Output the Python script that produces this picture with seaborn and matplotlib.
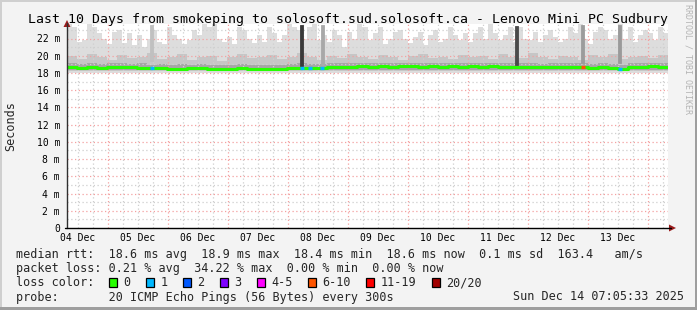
import numpy as np
import matplotlib
matplotlib.use("Agg")
import matplotlib.pyplot as plt
import seaborn as sns
from matplotlib.patches import Rectangle, Polygon

# ---------------- data ----------------
title = "Last 10 Days from smokeping to solosoft.sud.solosoft.ca - Lenovo Mini PC Sudbury"
day_labels = ["04 Dec", "05 Dec", "06 Dec", "07 Dec", "08 Dec",
              "09 Dec", "10 Dec", "11 Dec", "12 Dec", "13 Dec"]
day_label_pos = [0.5, 1.5, 2.5, 3.5, 4.5, 5.5, 6.5, 7.5, 8.5, 9.5]   # days after 04 Dec 00:00
y_ticks = [0, 2, 4, 6, 8, 10, 12, 14, 16, 18, 20, 22]
y_tick_labels = ["0", "2 m", "4 m", "6 m", "8 m", "10 m", "12 m", "14 m",
                 "16 m", "18 m", "20 m", "22 m"]

t_start = 0.317     # 03 Dec 07:36
t_end = 10.333      # 14 Dec 08:00

# outer smoke (upper edge, ms) every ~2 h
smoke_hi = [23.7, 23.3, 21.6, 21.8, 23.7, 23.3, 22.6, 22.0, 21.4, 22.8,
            23.0, 21.5, 22.6, 21.2, 22.4, 21.0, 22.0, 23.0, 21.6, 21.4,
            23.3, 22.4, 22.0, 21.4, 21.8, 23.0, 22.4, 23.7, 23.3, 23.7,
            22.0, 21.6, 22.2, 21.4, 23.3, 23.0, 22.0, 21.5, 22.4, 21.6,
            23.3, 22.6, 21.6, 22.4, 23.7, 23.3, 23.0, 22.0, 23.3, 23.7,
            21.8, 22.4, 21.6, 23.0, 22.4, 21.0, 22.8, 22.0, 23.7, 23.3,
            21.8, 22.6, 23.3, 21.4, 22.0, 22.8, 23.0, 22.0, 21.5, 22.2,
            22.8, 21.2, 22.4, 23.0, 21.6, 22.0, 23.3, 22.4, 21.8, 22.6,
            21.6, 22.6, 23.3, 22.0, 23.7, 22.6, 21.8, 22.4, 23.3, 21.6,
            23.3, 22.0, 21.8, 22.8, 21.6, 22.4, 23.0, 22.2, 21.6, 22.0,
            23.3, 22.6, 23.7, 22.0, 21.4, 22.8, 23.3, 23.0, 22.0, 22.4,
            23.7, 22.0, 23.3, 21.6, 22.4, 23.0, 22.6, 21.8, 23.3, 22.6]
smoke_hi_lo = 18.05

# middle smoke (upper edge, ms) every ~4 h
smoke_mid = [20.0, 19.6, 20.2, 19.8, 19.5, 20.1, 19.7, 19.9, 20.3, 19.6,
             19.8, 20.2, 19.5, 19.9, 20.0, 19.4, 19.8, 20.2, 19.7, 19.9,
             20.1, 19.6, 19.9, 20.3, 19.8, 19.5, 20.0, 19.7, 20.2, 19.9,
             19.6, 20.1, 19.8, 19.5, 20.0, 20.2, 19.7, 19.9, 19.6, 20.1,
             19.8, 20.0, 19.6, 20.2, 19.9, 19.7, 20.3, 19.8, 19.6, 20.0,
             19.9, 19.5, 20.1, 19.8, 20.2, 19.6, 19.9, 20.0, 19.7, 20.1]
smoke_mid_lo = 18.2

# inner smoke (upper edge, ms) every ~4 h
smoke_in = [19.1, 19.0, 19.2, 19.0, 19.1, 19.2, 19.0, 19.1, 18.9, 19.0,
            18.9, 19.0, 18.9, 19.0, 18.9, 18.9, 18.9, 19.0, 18.9, 18.9,
            18.9, 18.9, 19.0, 19.1, 19.0, 19.0, 19.1, 19.1, 19.1, 19.2,
            19.1, 19.2, 19.1, 19.2, 19.2, 19.1, 19.2, 19.1, 19.2, 19.1,
            19.2, 19.1, 19.2, 19.1, 19.1, 19.1, 19.1, 19.0, 19.1, 19.1,
            19.1, 19.1, 19.0, 19.1, 19.0, 18.9, 19.1, 19.1, 19.2, 19.1]
smoke_in_lo = 18.35

# median rtt (ms) every ~4 h
median_rtt = [18.65, 18.60, 18.70, 18.60, 18.65, 18.70, 18.65, 18.60, 18.55, 18.55,
              18.50, 18.50, 18.55, 18.60, 18.50, 18.45, 18.50, 18.55, 18.45, 18.45,
              18.45, 18.50, 18.55, 18.60, 18.55, 18.60, 18.70, 18.65, 18.70, 18.75,
              18.70, 18.75, 18.70, 18.75, 18.80, 18.70, 18.75, 18.70, 18.75, 18.70,
              18.75, 18.70, 18.75, 18.70, 18.70, 18.65, 18.70, 18.65, 18.70, 18.65,
              18.70, 18.65, 18.60, 18.70, 18.55, 18.50, 18.65, 18.70, 18.75, 18.70]

# packets lost (of 20) at particular times
loss_t = [1.73, 4.23, 4.37, 4.57, 8.92, 9.53]
loss_n = [1, 1, 1, 1, 7, 1]

# tall columns of widely spread pings
spike_t = [1.733, 4.233, 4.567, 7.80, 8.90, 9.517]
spike_top = [23.6, 23.6, 23.6, 23.4, 23.6, 23.6]
spike_bot = [19.4, 18.8, 19.0, 18.9, 19.2, 19.2]
spike_shade = ['#c0c0c0', '#3a3a3a', '#a8a8a8', '#4a4a4a', '#9c9c9c', '#9a9a9a']

loss_labels = ["0", "1", "2", "3", "4-5", "6-10", "11-19", "20/20"]
loss_upper = [0, 1, 2, 3, 5, 10, 19, 20]
loss_colors = ['#26ff00', '#00b8ff', '#0059ff', '#7e00ff',
               '#ff00ff', '#ff5500', '#ff0000', '#a10000']

legend_l1 = "median rtt:  18.6 ms avg  18.9 ms max  18.4 ms min  18.6 ms now  0.1 ms sd  163.4   am/s"
legend_l2 = "packet loss: 0.21 % avg  34.22 % max  0.00 % min  0.00 % now"
legend_l3 = "loss color:"
legend_l4 = "probe:       20 ICMP Echo Pings (56 Bytes) every 300s"
stamp = "Sun Dec 14 07:05:33 2025"

# ---------------- drawing ----------------
sns.set_theme(style="white")
plt.rcParams['font.family'] = ['DejaVu Sans Mono']

W, H = 697, 310
fig = plt.figure(figsize=(W / 100, H / 100), dpi=100)
fig.patch.set_facecolor('#f3f3f3')


def fx(px):
    return px / W


def fy(py):
    return 1 - py / H


ax_l, ax_r, ax_t, ax_b = 67, 668, 24, 228
ax = fig.add_axes([fx(ax_l), fy(ax_b), (ax_r - ax_l) / W, (ax_b - ax_t) / H])
ax.set_facecolor('white')
ymax = (ax_b - ax_t) / ((ax_b - 38.5) / 22.0)
ax.set_xlim(t_start, t_end)
ax.set_ylim(0, ymax)
for s in ax.spines.values():
    s.set_visible(False)


def step_fill(vals, lo, color, z):
    n = len(vals)
    dt = (t_end - t_start) / n
    xs = t_start + np.arange(n + 1) * dt
    ys = np.append(vals, vals[-1])
    ax.fill_between(xs, lo, ys, step='post', color=color, lw=0, zorder=z)


step_fill(smoke_hi, smoke_hi_lo, '#dddddd', 1)
step_fill(smoke_mid, smoke_mid_lo, '#c6c6c6', 1.1)
step_fill(smoke_in, smoke_in_lo, '#a6a6a6', 1.2)

for t, top, bot, c in zip(spike_t, spike_top, spike_bot, spike_shade):
    ax.bar(t, top - bot, bottom=bot, width=0.05, color=c, lw=0.6, edgecolor=c, zorder=2.5)

# grid
minor_x = [k * 0.25 for k in range(1, 42) if k % 4 != 0 and t_start < k * 0.25 < t_end]
major_x = [d for d in range(1, 11) if t_start < d < t_end]
ax.vlines(minor_x, 0, ymax, colors='#cfcfcf', linestyles=(0, (1, 2)), lw=0.9, zorder=2)
ax.hlines([v for v in range(1, 24, 2)], t_start, t_end, colors='#cfcfcf',
          linestyles=(0, (1, 2)), lw=0.9, zorder=2)
ax.vlines(major_x, 0, ymax, colors='#f4a0a0', linestyles=(0, (1, 2)), lw=0.9, zorder=2.1)
ax.hlines(y_ticks[1:], t_start, t_end, colors='#f4a0a0', linestyles=(0, (1, 2)),
          lw=0.9, zorder=2.1)

# median line
n = len(median_rtt)
dt = (t_end - t_start) / n
mx = t_start + np.arange(n + 1) * dt
my = np.append(median_rtt, median_rtt[-1])
sns.lineplot(x=mx, y=my, ax=ax, color=loss_colors[0], lw=2.2,
             drawstyle='steps-post', zorder=3, legend=False)

for t, nl in zip(loss_t, loss_n):
    idx = min(int((t - t_start) / dt), n - 1)
    ci = next(i for i, u in enumerate(loss_upper) if nl <= u)
    ax.hlines(median_rtt[idx], t - 0.03, t + 0.03, colors=loss_colors[ci], lw=2.4, zorder=3.5)

# ticks
ax.set_yticks(y_ticks)
ax.set_yticklabels(y_tick_labels)
ax.set_xticks(day_label_pos)
ax.set_xticklabels(day_labels)
ax.tick_params(axis='y', length=0, pad=5, labelsize=7, colors='black')
ax.tick_params(axis='x', length=0, pad=3.5, labelsize=7, colors='black')
ax.grid(False)

# axes lines and arrows
fig.add_artist(plt.Line2D([fx(ax_l), fx(ax_l)], [fy(ax_b), fy(23)], color='#303030', lw=1.0))
fig.add_artist(plt.Line2D([fx(ax_l - 2), fx(671)], [fy(ax_b), fy(ax_b)], color='black', lw=1.0))
arrow_c = '#9b1c1c'
fig.add_artist(Polygon([[fx(ax_l - 3.5), fy(27)], [fx(ax_l + 3.5), fy(27)], [fx(ax_l), fy(20)]],
                       closed=True, color=arrow_c, lw=0))
fig.add_artist(Polygon([[fx(669), fy(ax_b - 3.5)], [fx(669), fy(ax_b + 3.5)], [fx(676), fy(ax_b)]],
                       closed=True, color=arrow_c, lw=0))

# texts
fig.text(fx(347.5), fy(23.3), title, ha='center', va='baseline', fontsize=9.5, color='black')
fig.text(fx(10.5), fy(126), "Seconds", rotation=90, ha='center', va='center', fontsize=8.5)
fig.text(fx(688), fy(4), "RRDTOOL / TOBI OETIKER", rotation=270, ha='center', va='top',
         fontsize=6, color='#b4b4b4')

cw = 8.5 / 72 * 100 * 0.602
lx = 16
fig.text(fx(lx), fy(258), legend_l1, ha='left', va='baseline', fontsize=8.5)
fig.text(fx(lx), fy(272), legend_l2, ha='left', va='baseline', fontsize=8.5)
fig.text(fx(lx), fy(286.5), legend_l3, ha='left', va='baseline', fontsize=8.5)
fig.text(fx(lx), fy(300.5), legend_l4, ha='left', va='baseline', fontsize=8.5)
fig.text(fx(513), fy(300.5), stamp, ha='left', va='baseline', fontsize=8.5)

c = 13.1
for lab, col in zip(loss_labels, loss_colors):
    bx = lx + c * cw
    fig.add_artist(Rectangle((fx(bx), fy(287)), 8 / W, 9 / H, facecolor=col,
                             edgecolor='black', lw=0.9))
    fig.text(fx(lx + (c + 2.0) * cw), fy(286.5), lab, ha='left', va='baseline', fontsize=8.5)
    c = c + 2.0 + len(lab) + 2.2

# border (3d look)
fig.add_artist(Rectangle((0, fy(2)), 1, 2 / H, facecolor='#cfcfcf', lw=0))
fig.add_artist(Rectangle((0, 0), 2 / W, 1, facecolor='#cfcfcf', lw=0))
fig.add_artist(Rectangle((fx(694.5), 0), 2.5 / W, 1, facecolor='#9e9e9e', lw=0))
fig.add_artist(Rectangle((0, 0), 1, 3 / H, facecolor='#9e9e9e', lw=0))

fig.savefig("out.png", dpi=100, facecolor=fig.get_facecolor())
